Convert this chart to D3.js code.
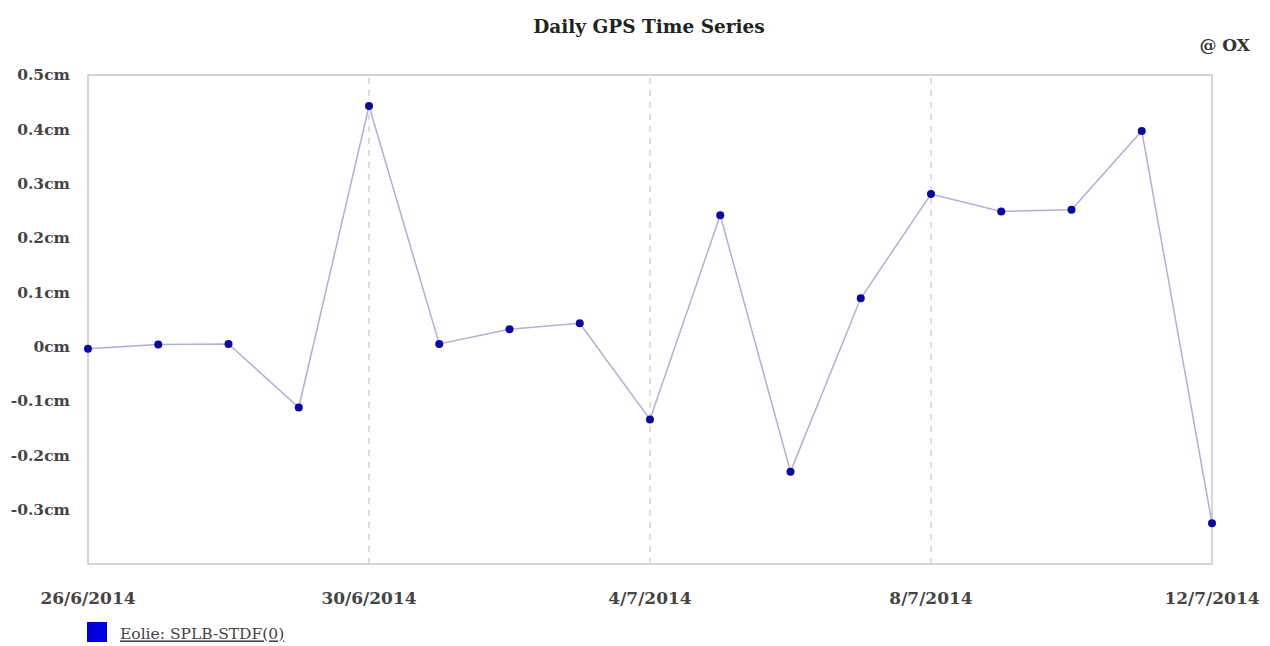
<!DOCTYPE html>
<html><head><meta charset="utf-8">
<script src="https://cdn.jsdelivr.net/npm/d3@7"></script>
<style>body{margin:0;background:#fff;}svg{display:block;}</style>
</head><body>
<svg id="c" width="1270" height="646"></svg>
<script>
const dates = ["2014-06-26","2014-06-27","2014-06-28","2014-06-29","2014-06-30","2014-07-01","2014-07-02","2014-07-03","2014-07-04","2014-07-05","2014-07-06","2014-07-07","2014-07-08","2014-07-09","2014-07-10","2014-07-11","2014-07-12"];
const values = [-0.004,0.004,0.005,-0.112,0.443,0.005,0.032,0.043,-0.134,0.242,-0.23,0.089,0.281,0.249,0.252,0.397,-0.325];
const xTickDates = ["2014-06-26","2014-06-30","2014-07-04","2014-07-08","2014-07-12"];
const xTickLabels = ["26/6/2014","30/6/2014","4/7/2014","8/7/2014","12/7/2014"];
const yTicks = [0.5,0.4,0.3,0.2,0.1,0,-0.1,-0.2,-0.3];
const yTickLabels = ["0.5cm","0.4cm","0.3cm","0.2cm","0.1cm","0cm","-0.1cm","-0.2cm","-0.3cm"];
const seriesName = "Eolie: SPLB-STDF(0)";
const title = "Daily GPS Time Series";

const parse = d3.utcParse("%Y-%m-%d");
const data = dates.map((d,i)=>({date:parse(d), v:values[i]}));
const svg = d3.select("#c");
const font = "Georgia, 'DejaVu Serif', 'Liberation Serif', serif";
const L=88, R=1212, T=75, B=564;
const x = d3.scaleUtc().domain([parse(dates[0]), parse(dates[dates.length-1])]).range([L,R]);
const y = d3.scaleLinear().domain([-0.4,0.5]).range([B,T]);

// frame
svg.append("rect").attr("x",L).attr("y",T).attr("width",R-L).attr("height",B-T)
  .attr("fill","none").attr("stroke","#c8c8c8").attr("stroke-width",1.5);

// dashed verticals
svg.append("g").selectAll("line").data(xTickDates.slice(1,-1)).join("line")
  .attr("x1",d=>x(parse(d))).attr("x2",d=>x(parse(d)))
  .attr("y1",T+3).attr("y2",B)
  .attr("stroke","#c8c8c8").attr("stroke-width",1.2).attr("stroke-dasharray","6,6");

// y labels
svg.append("g").selectAll("text").data(yTicks).join("text")
  .attr("x",70).attr("y",d=>y(d)).attr("dy","0.35em").attr("text-anchor","end")
  .attr("font-family",font).attr("font-weight","bold").attr("font-size",15.5).attr("fill","#444")
  .text((d,i)=>yTickLabels[i]);

// x labels
svg.append("g").selectAll("text").data(xTickDates).join("text")
  .attr("x",d=>x(parse(d))).attr("y",598).attr("dy","0.35em").attr("text-anchor","middle")
  .attr("font-family",font).attr("font-weight","bold").attr("font-size",17).attr("fill","#444")
  .text((d,i)=>xTickLabels[i]);

// line
svg.append("path").datum(data)
  .attr("d",d3.line().x(d=>x(d.date)).y(d=>y(d.v)))
  .attr("fill","none").attr("stroke","#b0b0d4").attr("stroke-width",1.5);

svg.append("g").selectAll("circle").data(data).join("circle")
  .attr("cx",d=>x(d.date)).attr("cy",d=>y(d.v)).attr("r",4)
  .attr("fill","#0a0a9a");

// title
svg.append("text").attr("x",649).attr("y",27).attr("dy","0.35em").attr("text-anchor","middle")
  .attr("font-family",font).attr("font-weight","bold").attr("font-size",18.5).attr("fill","#222")
  .text(title);
svg.append("text").attr("x",1250).attr("y",45).attr("dy","0.35em").attr("text-anchor","end")
  .attr("font-family",font).attr("font-weight","bold").attr("font-size",17).attr("fill","#333")
  .text("@ OX");

// legend
svg.append("rect").attr("x",87).attr("y",622).attr("width",20).attr("height",20).attr("fill","#0000dd");
svg.append("text").attr("x",120).attr("y",634).attr("dy","0.35em")
  .attr("font-family",font).attr("font-size",15.5).attr("fill","#444")
  .attr("text-decoration","underline").text(seriesName);
</script>
</body></html>
